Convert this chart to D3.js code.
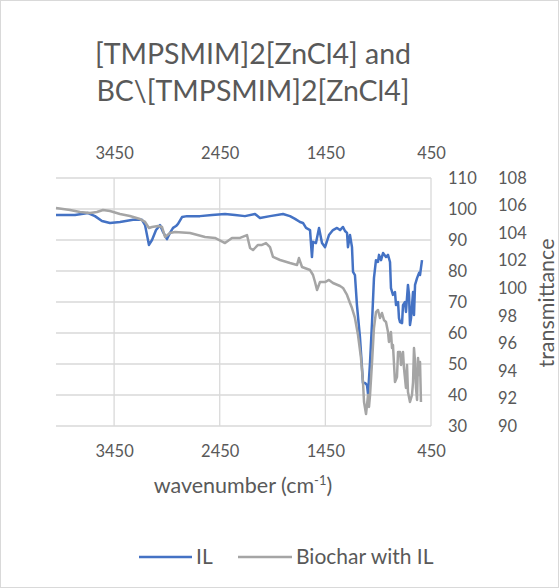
<!DOCTYPE html>
<html>
<head>
<meta charset="utf-8">
<script src="https://cdn.jsdelivr.net/npm/d3@7"></script>
<style>
  body { margin: 0; background: #fff; }
  svg { display: block; font-family: Lato, "Open Sans", sans-serif; }
</style>
</head>
<body>
<div class="Chart"></div>
<script>
// IL spectrum: [wavenumber, value] (primary axis)
const ilData = [
  [4000, 98.1], [3820, 98.1], [3697, 98.7], [3631, 97.7], [3565, 96.1], [3489, 95.5],
  [3394, 95.8], [3271, 96.5], [3186, 96.5], [3157, 94.8], [3120, 88.4], [3091, 90.0],
  [3053, 93.2], [3015, 94.8], [2987, 92.6], [2949, 90.3], [2921, 92.3], [2892, 93.9],
  [2864, 94.5], [2845, 95.2], [2807, 97.4], [2760, 97.7], [2637, 97.7], [2523, 98.1],
  [2400, 98.4], [2305, 98.1], [2211, 97.7], [2116, 98.4], [2069, 97.1], [1974, 97.7],
  [1851, 98.4], [1785, 97.7], [1737, 96.8], [1690, 95.8], [1662, 95.5], [1633, 93.9],
  [1595, 93.2], [1577, 84.5], [1567, 89.4], [1539, 89.0], [1510, 93.9], [1482, 89.0],
  [1453, 87.7], [1416, 91.6], [1378, 93.2], [1340, 93.9], [1311, 93.2], [1283, 94.2],
  [1264, 92.9], [1245, 92.3], [1236, 87.7], [1217, 91.6], [1198, 87.7], [1188, 79.7],
  [1170, 78.7], [1151, 69.0], [1122, 58.4], [1103, 48.7], [1094, 43.9], [1075, 43.9],
  [1056, 43.2], [1046, 40.3], [1027, 50.6], [1008, 63.5], [990, 77.7], [971, 83.5],
  [952, 82.9], [942, 85.2], [923, 83.5], [904, 85.8], [876, 84.5], [857, 85.2],
  [838, 82.9], [829, 74.5], [810, 72.3], [791, 73.2], [781, 69.0], [762, 70.0],
  [753, 64.8], [743, 63.5], [724, 63.2], [715, 69.0], [696, 70.0], [687, 66.8],
  [668, 75.5], [658, 72.3], [649, 62.6], [639, 64.8], [620, 73.2], [611, 65.8],
  [601, 75.5], [582, 77.7], [563, 79.4], [554, 78.7], [545, 81.0], [535, 83.5]
];

// Biochar with IL spectrum: [wavenumber, transmittance] (secondary axis)
const bcData = [
  [4000, 105.82], [3867, 105.68], [3773, 105.53], [3678, 105.46], [3612, 105.53], [3555, 105.68],
  [3489, 105.60], [3394, 105.39], [3300, 105.24], [3205, 105.02], [3157, 104.81], [3120, 104.37],
  [3091, 104.44], [3034, 104.52], [2996, 104.44], [2968, 103.72], [2921, 104.01], [2873, 104.08],
  [2731, 104.01], [2589, 103.72], [2495, 103.65], [2400, 103.28], [2334, 103.65], [2258, 103.65],
  [2192, 103.86], [2163, 102.92], [2135, 102.77], [2088, 103.14], [2050, 103.14], [2012, 103.28],
  [1974, 102.99], [1946, 102.27], [1879, 102.05], [1785, 101.83], [1718, 101.69], [1700, 102.19],
  [1671, 101.54], [1595, 101.32], [1567, 100.96], [1548, 100.45], [1529, 99.87], [1501, 100.45],
  [1453, 100.45], [1416, 100.60], [1378, 100.38], [1311, 100.16], [1283, 100.02], [1245, 99.51],
  [1217, 98.93], [1198, 98.56], [1170, 97.84], [1141, 96.60], [1113, 94.94], [1094, 93.19],
  [1084, 91.74], [1065, 90.87], [1046, 92.25], [1037, 91.38], [1027, 92.25], [1008, 94.65],
  [990, 97.11], [971, 98.27], [952, 98.42], [933, 97.84], [914, 98.20], [895, 97.69],
  [876, 97.55], [857, 96.82], [848, 96.10], [829, 96.82], [819, 95.66], [810, 95.88],
  [791, 93.19], [772, 93.56], [762, 95.37], [743, 95.37], [734, 94.43], [715, 95.37],
  [706, 94.21], [687, 92.76], [677, 94.43], [668, 92.47], [649, 91.74], [630, 92.25],
  [620, 93.19], [611, 95.66], [601, 94.65], [592, 92.76], [582, 91.89], [573, 94.94],
  [563, 93.70], [554, 94.65], [545, 91.74]
];

const xTicks = [3450, 2450, 1450, 450];
const leftTicks = [30, 40, 50, 60, 70, 80, 90, 100, 110];
const rightTicks = [90, 92, 94, 96, 98, 100, 102, 104, 106, 108];
const titleLines = ["[TMPSMIM]2[ZnCl4] and", "BC\\[TMPSMIM]2[ZnCl4]"];
const seriesNames = ["IL", "Biochar with IL"];
const seriesColors = ["#4472C4", "#A5A5A5"];

const W = 559, H = 588;
const plot = { left: 56, right: 431, top: 178, bottom: 426 };
const textColor = "#595959";
const gridColor = "#d9d9d9";

const svg = d3.select(".Chart")
  .append("svg")
  .attr("width", W)
  .attr("height", H);

// chart frame
svg.append("rect")
  .attr("x", 0.5).attr("y", 0.5)
  .attr("width", W - 1).attr("height", H - 1)
  .attr("fill", "#fff")
  .attr("stroke", gridColor);

const x = d3.scaleLinear().domain([4000, 450]).range([plot.left, plot.right]);
const yL = d3.scaleLinear().domain([30, 110]).range([plot.bottom, plot.top]);
const yR = d3.scaleLinear().domain([90, 108]).range([plot.bottom, plot.top]);

// gridlines
svg.append("g").selectAll("line")
  .data(leftTicks)
  .join("line")
  .attr("x1", plot.left).attr("x2", plot.right)
  .attr("y1", d => yL(d)).attr("y2", d => yL(d))
  .attr("stroke", gridColor).attr("stroke-width", 1.3);

svg.append("g").selectAll("line")
  .data(xTicks)
  .join("line")
  .attr("x1", d => x(d)).attr("x2", d => x(d))
  .attr("y1", plot.top).attr("y2", plot.bottom)
  .attr("stroke", gridColor).attr("stroke-width", 1.3);

function styleAxis(g) {
  g.select(".domain").remove();
  g.selectAll(".tick line").remove();
  g.selectAll("text")
    .attr("fill", textColor)
    .style("font-size", "16.5px")
    .style("font-family", "Lato, sans-serif");
}

// top and bottom x axes
svg.append("g")
  .attr("transform", `translate(0,${plot.top - 19})`)
  .call(d3.axisTop(x).tickValues(xTicks).tickSize(0).tickPadding(0).tickFormat(d3.format("d")))
  .call(styleAxis);

svg.append("g")
  .attr("transform", `translate(0,${plot.bottom + 19})`)
  .call(d3.axisBottom(x).tickValues(xTicks).tickSize(0).tickPadding(0).tickFormat(d3.format("d")))
  .call(styleAxis);

// right axes
svg.append("g")
  .attr("transform", `translate(448,0)`)
  .call(d3.axisRight(yL).tickValues(leftTicks).tickSize(0).tickPadding(0))
  .call(styleAxis);

svg.append("g")
  .attr("transform", `translate(498,0)`)
  .call(d3.axisRight(yR).tickValues(rightTicks).tickSize(0).tickPadding(0))
  .call(styleAxis);

// series
const lineL = d3.line().x(d => x(d[0])).y(d => yL(d[1]));
const lineR = d3.line().x(d => x(d[0])).y(d => yR(d[1]));

svg.append("path")
  .datum(ilData)
  .attr("d", lineL)
  .attr("fill", "none")
  .attr("stroke", seriesColors[0])
  .attr("stroke-width", 2.5)
  .attr("stroke-linejoin", "round");

svg.append("path")
  .datum(bcData)
  .attr("d", lineR)
  .attr("fill", "none")
  .attr("stroke", seriesColors[1])
  .attr("stroke-width", 2.5)
  .attr("stroke-linejoin", "round");

// title
svg.append("g").selectAll("text")
  .data(titleLines)
  .join("text")
  .attr("x", 253)
  .attr("y", (d, i) => 64 + i * 37)
  .attr("text-anchor", "middle")
  .attr("fill", textColor)
  .style("font-size", "28.5px")
  .text(d => d);

// axis titles
const xTitle = svg.append("text")
  .attr("x", 243)
  .attr("y", 493)
  .attr("text-anchor", "middle")
  .attr("fill", textColor)
  .style("font-size", "21.5px");
xTitle.append("tspan").text("wavenumber (cm");
xTitle.append("tspan").attr("dy", -8).style("font-size", "13px").text("-1");
xTitle.append("tspan").attr("dy", 8).text(")");

svg.append("text")
  .attr("transform", "translate(554,303) rotate(-90)")
  .attr("text-anchor", "middle")
  .attr("fill", textColor)
  .style("font-size", "21.5px")
  .text("transmittance");

// legend
const legendItems = [
  { name: seriesNames[0], color: seriesColors[0], x1: 139, x2: 192 },
  { name: seriesNames[1], color: seriesColors[1], x1: 238, x2: 292 }
];
const legend = svg.append("g");
legend.selectAll("line")
  .data(legendItems)
  .join("line")
  .attr("x1", d => d.x1).attr("x2", d => d.x2)
  .attr("y1", 557).attr("y2", 557)
  .attr("stroke", d => d.color)
  .attr("stroke-width", 2.5);
legend.selectAll("text")
  .data(legendItems)
  .join("text")
  .attr("x", d => d.x2 + 4)
  .attr("y", 564)
  .attr("fill", textColor)
  .style("font-size", "21px")
  .text(d => d.name);
</script>
</body>
</html>
